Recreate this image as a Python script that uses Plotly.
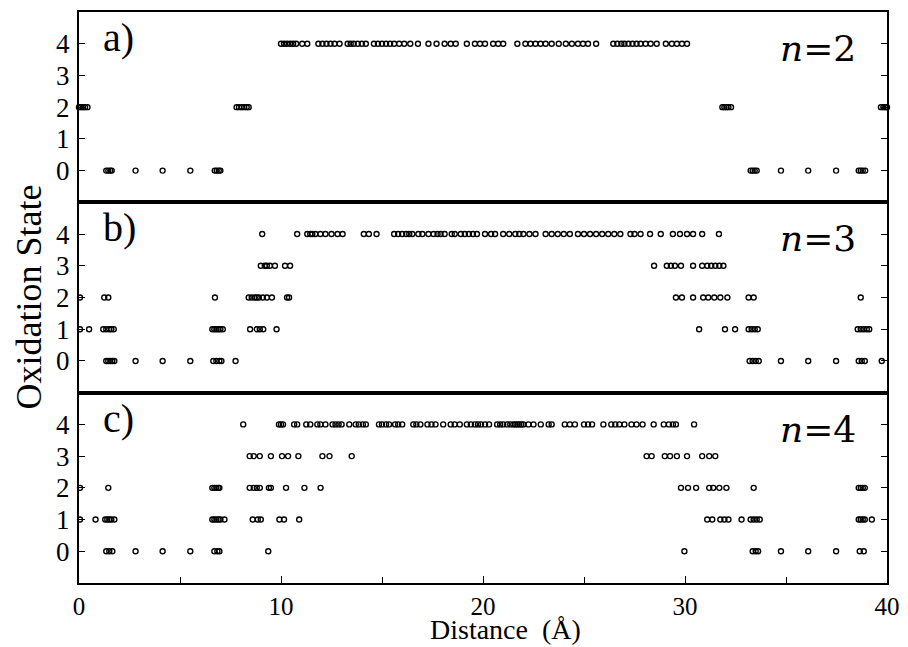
import plotly.graph_objects as go
from plotly.subplots import make_subplots

# ---------------- data (distance in Å, grouped by oxidation state) ----------------
levels = [0, 1, 2, 3, 4]
panel_labels = ["a)", "b)", "c)"]
n_labels = ["2", "3", "4"]

a_ox0 = [1.35, 1.45, 1.55, 1.62, 2.8, 4.14, 5.51, 6.72, 6.82, 6.92, 7.0,
         33.25, 33.35, 33.45, 33.55, 34.75, 36.1, 37.48, 38.6, 38.7, 38.8, 38.92]
a_ox1 = []
a_ox2 = [0.0, 0.1, 0.2, 0.3, 0.42, 7.8, 7.92, 8.05, 8.18, 8.3, 8.4,
         31.85, 31.95, 32.05, 32.15, 32.28, 39.7, 39.82, 39.92, 40.0]
a_ox3 = []
a_ox4 = [10.0, 10.15, 10.3, 10.45, 10.6, 10.75, 11.05, 11.3,
         11.85, 12.05, 12.25, 12.45, 12.65, 12.9, 13.3, 13.45, 13.6, 13.8, 14.0, 14.2,
         14.6, 14.8, 15.0, 15.2, 15.4, 15.6, 15.85, 16.1, 16.4, 16.78, 17.3, 17.7,
         18.1, 18.4, 18.65, 19.2, 19.6, 19.85, 20.1, 20.5, 20.75, 21.0, 21.7,
         22.1, 22.35, 22.6, 22.85, 23.1, 23.4, 23.75, 24.1, 24.4, 24.7, 24.95, 25.2,
         25.6, 26.45, 26.65, 26.85, 27.0, 27.2, 27.4, 27.6, 27.8, 28.05, 28.3, 28.6,
         29.05, 29.35, 29.6, 29.85, 30.1]

b_ox0 = [1.35, 1.45, 1.55, 1.65, 1.75, 2.8, 4.14, 5.51, 6.65, 6.8, 6.95, 7.05, 7.75,
         33.2, 33.35, 33.5, 33.65, 34.75, 36.1, 37.48, 38.6, 38.75, 38.9, 39.74]
b_ox1 = [0.05, 0.5, 1.2, 1.35, 1.5, 1.6, 1.72, 6.6, 6.7, 6.8, 6.9, 7.0, 7.12,
         8.47, 8.8, 8.95, 9.12, 9.78, 30.7, 31.98, 32.48, 33.15, 33.3, 33.45, 33.6,
         38.55, 38.7, 38.85, 39.0, 39.12]
b_ox2 = [0.05, 1.25, 1.45, 6.73, 8.4, 8.55, 8.7, 8.8, 8.9, 9.1, 9.3, 9.55, 10.3, 10.4,
         29.55, 29.85, 30.4, 30.9, 31.15, 31.45, 31.75, 32.1, 33.15, 33.4, 38.7]
b_ox3 = [9.0, 9.2, 9.3, 9.45, 9.7, 10.2, 10.45, 28.47, 29.1, 29.3, 29.5, 29.8, 30.4,
         30.85, 31.1, 31.3, 31.5, 31.7, 31.9]
b_ox4 = [9.07, 10.8, 11.3, 11.45, 11.55, 11.7, 11.95, 12.2, 12.5, 12.8, 13.05,
         14.1, 14.35, 14.73, 15.6, 15.8, 16.0, 16.2, 16.35, 16.5, 16.8, 17.0,
         17.3, 17.55, 17.75, 17.9, 18.1, 18.45, 18.6, 18.9, 19.1, 19.3, 19.5, 19.7,
         20.1, 20.4, 20.6, 21.0, 21.3, 21.6, 21.8, 22.0, 22.3, 22.6,
         23.1, 23.4, 23.7, 24.0, 24.3, 24.7, 25.0, 25.3, 25.6, 25.9, 26.2, 26.5, 26.8,
         27.3, 27.5, 27.8, 28.27, 28.8, 29.4, 29.75, 30.1, 30.4, 30.85, 31.68]

c_ox0 = [1.35, 1.5, 1.65, 2.8, 4.14, 5.51, 6.7, 6.85, 6.95, 9.37, 29.97,
         33.35, 33.5, 33.62, 34.75, 36.1, 37.48, 38.65, 38.85]
c_ox1 = [0.05, 0.82, 1.3, 1.4, 1.5, 1.6, 1.75, 6.6, 6.7, 6.8, 6.9, 7.0, 7.2,
         8.6, 8.85, 9.0, 9.92, 10.15, 10.9, 31.1, 31.35, 31.75, 31.95, 32.15, 32.8,
         33.25, 33.4, 33.55, 33.7, 38.6, 38.7, 38.8, 38.9, 39.25]
c_ox2 = [0.05, 1.45, 6.6, 6.7, 6.8, 6.9, 6.95, 8.45, 8.65, 8.8, 8.95, 9.4, 9.5,
         10.25, 11.16, 11.96, 29.8, 30.15, 30.55, 31.2, 31.4, 31.7, 32.05, 33.4,
         38.6, 38.7, 38.8, 38.9]
c_ox3 = [8.45, 8.65, 8.95, 9.5, 10.05, 10.35, 10.86, 12.05, 12.4, 13.5,
         28.1, 28.35, 29.0, 29.26, 29.6, 30.1, 30.85, 31.2, 31.5]
c_ox4 = [8.13, 9.9, 10.0, 10.1, 10.65, 10.8, 11.25, 11.45, 11.8, 11.95, 12.2,
         12.55, 12.7, 12.85, 13.0, 13.38, 13.7, 13.85, 14.05, 14.2,
         14.85, 15.0, 15.2, 15.35, 15.65, 15.8, 16.0, 16.55, 16.7, 16.9,
         17.25, 17.45, 17.65, 18.03, 18.4, 18.6, 18.85,
         19.2, 19.4, 19.6, 19.75, 19.9, 20.1, 20.3, 20.7, 20.85, 21.0, 21.2, 21.35,
         21.5, 21.6, 21.7, 21.8, 21.9, 22.0, 22.25, 22.5, 22.86, 23.25, 23.4,
         24.05, 24.3, 24.55, 25.0, 25.2, 25.4, 25.96, 26.35, 26.55, 26.75, 27.0,
         27.35, 27.6, 27.9, 28.45, 28.95, 29.2, 29.4, 29.55, 30.45]

panels = [
    [a_ox0, a_ox1, a_ox2, a_ox3, a_ox4],
    [b_ox0, b_ox1, b_ox2, b_ox3, b_ox4],
    [c_ox0, c_ox1, c_ox2, c_ox3, c_ox4],
]

# ---------------- figure ----------------
fig = make_subplots(rows=3, cols=1, shared_xaxes=True, vertical_spacing=0)

marker = dict(symbol="circle-open", size=5, color="black",
              line=dict(color="black", width=1.4))

for r, groups in enumerate(panels, start=1):
    xs, ys = [], []
    for lvl, g in zip(levels, groups):
        xs += g
        ys += [lvl] * len(g)
    fig.add_trace(go.Scatter(x=xs, y=ys, mode="markers", marker=marker,
                             showlegend=False, cliponaxis=False),
                  row=r, col=1)

SERIF = "Liberation Serif, Times New Roman, Times, serif"
ytickfont = dict(family=SERIF, size=27, color="black")
xtickfont = dict(family=SERIF, size=25, color="black")
for r in range(1, 4):
    fig.update_yaxes(range=[-1, 5], tickvals=[0, 1, 2, 3, 4], ticks="inside",
                     ticklen=6, tickwidth=1.2, tickcolor="black",
                     showline=True, linewidth=2, linecolor="black", mirror="ticks",
                     showgrid=False, zeroline=False, tickfont=ytickfont,
                     ticklabelstandoff=2, automargin=False, row=r, col=1)
    fig.update_xaxes(range=[0, 40], showline=True, linewidth=2, linecolor="black",
                     mirror=True, showgrid=False, zeroline=False, automargin=False,
                     row=r, col=1)

fig.update_xaxes(showticklabels=False, ticks="", row=1, col=1)
fig.update_xaxes(showticklabels=False, ticks="", row=2, col=1)
fig.update_xaxes(tickvals=[0, 10, 20, 30, 40], ticks="inside", ticklen=7,
                 tickwidth=1.2, tickcolor="black", tickfont=xtickfont,
                 showticklabels=True,
                 minor=dict(tickvals=[5, 15, 25, 35], ticks="inside", ticklen=6,
                            tickwidth=1.2, tickcolor="black", showgrid=False),
                 row=3, col=1)

annotations = []
yrefs = ["y", "y2", "y3"]
for i in range(3):
    annotations.append(dict(x=1.1, y=4.2, xref="x", yref=yrefs[i],
                            text=panel_labels[i], showarrow=False,
                            xanchor="left", yanchor="middle",
                            font=dict(family=SERIF, size=40, color="black")))
    annotations.append(dict(x=36.6, y=3.85, xref="x", yref=yrefs[i],
                            text="<i>n</i>=" + n_labels[i], showarrow=False,
                            xanchor="center", yanchor="middle",
                            font=dict(family="DejaVu Serif", size=36, color="black")))

annotations.append(dict(x=-0.063, y=0.5, xref="paper", yref="paper",
                        text="Oxidation State", textangle=-90, showarrow=False,
                        xanchor="center", yanchor="middle",
                        font=dict(family=SERIF, size=36, color="black")))
annotations.append(dict(x=0.528, y=-0.1115, xref="paper", yref="paper",
                        text="Distance&nbsp;&nbsp;(Å)", showarrow=False,
                        xanchor="center", yanchor="bottom",
                        font=dict(family=SERIF, size=28, color="black")))

# the page body adds an 8px offset, so the figure is 8px smaller than the window
fig.update_layout(width=900, height=639,
                  margin=dict(l=71, r=21, t=4, b=64, autoexpand=False),
                  paper_bgcolor="white", plot_bgcolor="white",
                  annotations=annotations, showlegend=False)

fig.write_html("out.html")
